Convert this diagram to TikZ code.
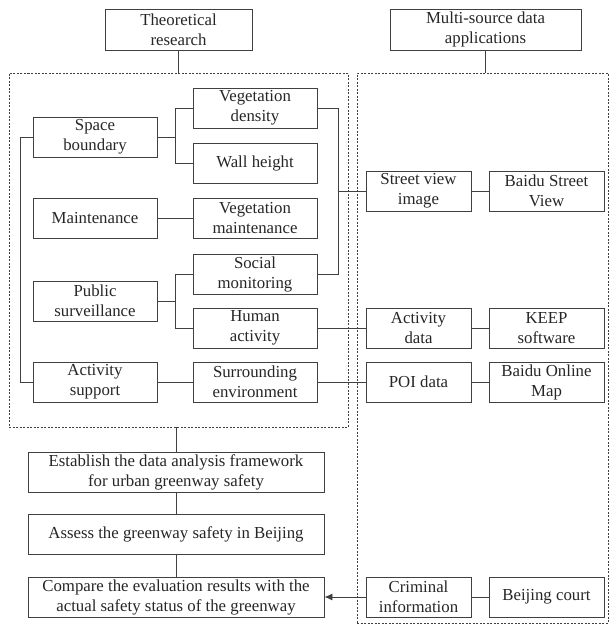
\documentclass[tikz,border=0pt]{standalone}
\usepackage{fontspec}
\setmainfont{Liberation Serif}
\usepackage{tikz}
\usetikzlibrary{arrows.meta}

\begin{document}
\begin{tikzpicture}[x=1pt,y=-1pt,line width=0.9pt,color=black!75,
    box/.style={draw,align=center,minimum height=40pt,inner sep=1pt,text=black!85,font=\fontsize{16.8}{20}\selectfont},
    leftbox/.style={box,minimum width=124pt},
    srcbox/.style={box,minimum width=105pt},
    appbox/.style={box,minimum width=115pt},
    stepbox/.style={box,minimum width=296pt},
    groupbox/.style={draw,line width=0.8pt,dash pattern=on 2pt off 1.5pt,inner sep=0pt}]
\useasboundingbox (0,0) rectangle (609,624);

% dashed groups
\node[groupbox,minimum width=339pt,minimum height=354pt] (theory) at (178.5,250) {};
\node[groupbox,minimum width=251pt,minimum height=550pt] (apps) at (482.5,348) {};

% headings
\node[box,minimum width=147pt,minimum height=41pt] (theohead) at (178.5,29.5) {Theoretical\\research};
\node[box,minimum width=191pt,minimum height=41pt] (multihead) at (485.5,29.5) {Multi-source data\\applications};

% indicators
\node[leftbox] (space) at (95,137) {Space\\boundary};
\node[leftbox] (maint) at (95,218) {Maintenance};
\node[leftbox] (public) at (95,301) {Public\\surveillance};
\node[leftbox] (support) at (95,382) {Activity\\support};

\node[leftbox] (density) at (255,108) {Vegetation\\density};
\node[leftbox] (wall) at (255,163) {Wall height};
\node[leftbox] (vegmaint) at (255,218) {Vegetation\\maintenance};
\node[leftbox] (social) at (255,274) {Social\\monitoring};
\node[leftbox] (human) at (255,328) {Human\\activity};
\node[leftbox] (surround) at (255,382) {Surrounding\\environment};

% data sources
\node[srcbox] (street) at (418.5,191) {Street view\\image};
\node[srcbox] (actdata) at (418.5,328) {Activity\\data};
\node[srcbox] (poi) at (418.5,382) {POI data};
\node[srcbox] (crime) at (418.5,597) {Criminal\\information};

\node[appbox] (baidusv) at (546.5,191) {Baidu Street\\View};
\node[appbox] (keep) at (546.5,328) {KEEP\\software};
\node[appbox] (baidumap) at (546.5,382) {Baidu Online\\Map};
\node[appbox] (court) at (546.5,597) {Beijing court};

% steps
\node[stepbox] (establish) at (176,472) {Establish the data analysis framework\\for urban greenway safety};
\node[stepbox] (assess) at (176,534.5) {Assess the greenway safety in Beijing};
\node[stepbox] (compare) at (176,597) {Compare the evaluation results with the\\actual safety status of the greenway};

% connectors
\draw (theohead) -- (theory);
\draw (multihead) -- (multihead |- apps.north);

\draw (space.west) -- ++(-12,0) |- (support.west);
\draw (density.west) -- ++(-17,0) coordinate (sbj) |- (wall.west);
\draw (space.east) -- (space.east -| sbj);
\draw (maint) -- (vegmaint);
\draw (social.west) -- ++(-17,0) coordinate (psj) |- (human.west);
\draw (public.east) -- (public.east -| psj);
\draw (support) -- (surround);

\draw (density.east) -- ++(21,0) coordinate (svj) |- (social.east);
\draw (svj |- street) -- (street.west);
\draw (human) -- (actdata);
\draw (surround) -- (poi);

\draw (street) -- (baidusv);
\draw (actdata) -- (keep);
\draw (poi) -- (baidumap);
\draw (crime) -- (court);
\draw[-{Latex[length=8pt,width=7pt]}] (crime) -- (compare);

\draw (theory.south -| establish) -- (establish);
\draw (establish) -- (assess);
\draw (assess) -- (compare);
\end{tikzpicture}
\end{document}
